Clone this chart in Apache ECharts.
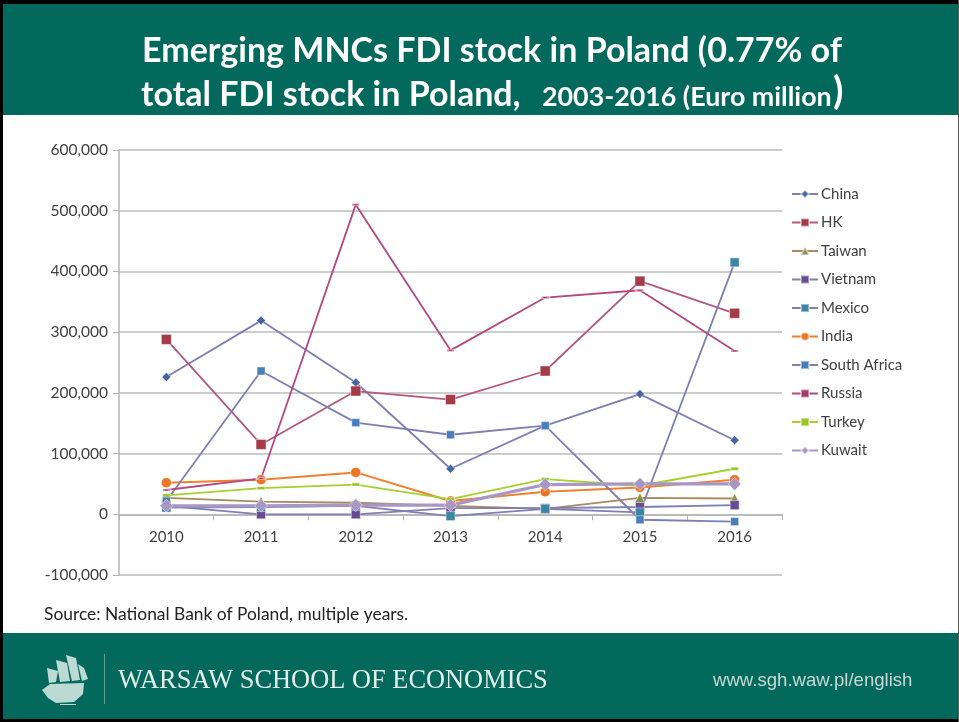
<!DOCTYPE html>
<html>
<head>
<meta charset="utf-8">
<title>Emerging MNCs FDI stock in Poland</title>
<script src="https://cdn.jsdelivr.net/npm/echarts@6/dist/echarts.min.js"></script>
<style>
html, body { margin: 0; padding: 0; background: #fff; }
#main { width: 959px; height: 722px; }
</style>
</head>
<body>
<div id="main"></div>
<script>
// data
var years = ['2010', '2011', '2012', '2013', '2014', '2015', '2016'];
var china = [226000, 319000, 217000, 75000, 146000, 198000, 122000];
var hk = [288000, 115000, 203000, 189000, 236000, 384000, 331000];
var taiwan = [27000, 21000, 19000, 14000, 9000, 27000, 26000];
var vietnam = [14000, 0, 0, 10000, 10000, 12000, 15000];
var mexico = [11000, 12000, 14000, -3000, 9000, 3000, 415000];
var india = [52000, 57000, 69000, 22000, 37000, 44000, 57000];
var southAfrica = [22000, 236000, 151000, 131000, 146000, -9000, -12000];
var russia = [40000, 59000, 510000, 270000, 357000, 369000, 269000];
var turkey = [31000, 43000, 49000, 25000, 58000, 47000, 75000];
var kuwait = [14000, 14000, 15000, 15000, 49000, 50000, 50000];

var teal = '#03695c';
var font = 'Lato';

function line(name, data, lineColor, width, symbol, size, markColor) {
    return {
        name: name,
        type: 'line',
        data: data,
        symbol: symbol,
        symbolSize: size,
        showAllSymbol: true,
        lineStyle: { color: lineColor, width: width },
        itemStyle: { color: markColor, borderColor: 'rgba(255,255,255,0.45)', borderWidth: 1 },
        emphasis: { disabled: true }
    };
}

// rough ship logo, plain polygons
function shipPart(points) {
    return { type: 'polygon', silent: true, shape: { points: points }, style: { fill: 'rgba(236,245,242,0.8)' } };
}

var myChart = echarts.init(document.getElementById('main'), null, { renderer: 'canvas' });
var option = {
    animation: false,
    backgroundColor: '#fff',
    textStyle: { fontFamily: font },
    grid: { left: 119, right: 177, top: 150, bottom: 147, containLabel: false },
    legend: {
        orient: 'vertical',
        left: 786,
        top: 180,
        itemWidth: 26,
        itemHeight: 10,
        itemGap: 10.5,
        data: ['China', 'HK', 'Taiwan', 'Vietnam', 'Mexico', 'India', 'South Africa', 'Russia', 'Turkey', 'Kuwait'],
        textStyle: { color: '#404040', fontSize: 15, fontFamily: font, lineHeight: 18, padding: [0, 0, 0, -2] }
    },
    xAxis: {
        type: 'category',
        data: years,
        boundaryGap: true,
        axisLine: { onZero: true, lineStyle: { color: '#b4b4b4', width: 1.5 } },
        axisTick: { show: true, length: 6, lineStyle: { color: '#b4b4b4' } },
        // labels stay at the grid edge by default, pull them up under the zero line
        axisLabel: { color: '#404040', fontSize: 15, fontFamily: font, margin: -45 },
        splitLine: { show: false }
    },
    yAxis: {
        type: 'value',
        min: -100000,
        max: 600000,
        interval: 100000,
        axisLine: { show: true, lineStyle: { color: '#b4b4b4', width: 1.5 } },
        axisTick: { show: true, length: 6, lineStyle: { color: '#b4b4b4' } },
        axisLabel: {
            color: '#404040', fontSize: 15.5, fontFamily: font, margin: 11,
            formatter: function (v) { return v.toString().replace(/\B(?=(\d{3})+$)/g, ','); }
        },
        splitLine: { show: true, lineStyle: { color: '#bdbdbd', width: 1.5 } }
    },
    series: [
        line('China', china, '#7f7fb4', 1.8, 'diamond', 9, '#46659f'),
        line('HK', hk, '#b4587c', 1.8, 'rect', 10, '#a33b48'),
        line('Taiwan', taiwan, '#a88c60', 1.8, 'triangle', 10, '#899249'),
        line('Vietnam', vietnam, '#7f7fb4', 1.8, 'rect', 9, '#674b93'),
        line('Mexico', mexico, '#7f7fb4', 1.8, 'rect', 9, '#3c86a4'),
        line('India', india, '#f07f2e', 2, 'circle', 10, '#ec7526'),
        line('South Africa', southAfrica, '#7f7fb4', 1.8, 'rect', 8, '#4a7ebb'),
        line('Russia', russia, '#b4487f', 1.8, 'rect', [7, 2], '#a63a6a'),
        line('Turkey', turkey, '#a4d030', 1.8, 'rect', [8, 3], '#98c62a'),
        line('Kuwait', kuwait, '#a797c4', 3.2, 'diamond', 13, '#a897c4')
    ],
    graphic: [
        // frame and bands
        { type: 'rect', z: -10, silent: true, shape: { x: 0, y: 0, width: 959, height: 115 }, style: { fill: teal } },
        { type: 'rect', z: -10, silent: true, shape: { x: 0, y: 633, width: 959, height: 89 }, style: { fill: teal } },
        { type: 'rect', z: 20, silent: true, shape: { x: 0, y: 0, width: 959, height: 4 }, style: { fill: '#000' } },
        { type: 'rect', z: 20, silent: true, shape: { x: 0, y: 719, width: 959, height: 3 }, style: { fill: '#000' } },
        { type: 'rect', z: 20, silent: true, shape: { x: 0, y: 0, width: 3, height: 722 }, style: { fill: '#000' } },
        { type: 'rect', z: 20, silent: true, shape: { x: 958, y: 0, width: 1, height: 722 }, style: { fill: '#555' } },
        // title
        { type: 'text', silent: true, x: 142, y: 34, style: { text: 'Emerging MNCs FDI stock in Poland (0.77% of', fill: '#fff', font: 'bold 34px Lato' } },
        { type: 'text', silent: true, x: 141, y: 78, style: { text: 'total FDI stock in Poland,', fill: '#fff', font: 'bold 34px Lato' } },
        { type: 'text', silent: true, x: 542, y: 84, style: { text: '2003-2016 (Euro million', fill: '#fff', font: 'bold 26.8px Lato' } },
        { type: 'text', silent: true, x: 833, y: 73, style: { text: ')', fill: '#fff', font: 'bold 38px Lato' } },
        // source
        { type: 'text', silent: true, x: 44, y: 606, style: { text: 'Source: National Bank of Poland, multiple years.', fill: '#222', font: '17.4px Lato' } },
        // footer
        { type: 'rect', silent: true, shape: { x: 104, y: 654, width: 1, height: 50 }, style: { fill: '#5f9d92' } },
        { type: 'text', silent: true, x: 118, y: 668, style: { text: 'WARSAW SCHOOL OF ECONOMICS', fill: '#e4efec', font: '26.4px "Liberation Serif"' } },
        { type: 'text', silent: true, x: 713, y: 671, style: { text: 'www.sgh.waw.pl/english', fill: '#c5dad5', font: '18.6px "Liberation Sans"' } },
        shipPart([[42, 690], [50, 684], [84, 683], [83, 694], [74, 702], [56, 703], [48, 698]]),
        shipPart([[47, 668], [58, 671], [56, 682], [49, 683]]),
        shipPart([[56, 660], [67, 663], [70, 681], [60, 682]]),
        shipPart([[66, 655], [76, 658], [80, 680], [72, 681]]),
        shipPart([[78, 664], [84, 668], [88, 679], [82, 681]]),
        shipPart([[60, 704], [76, 704], [76, 705], [60, 705]])
    ]
};
myChart.setOption(option);
</script>
</body>
</html>
